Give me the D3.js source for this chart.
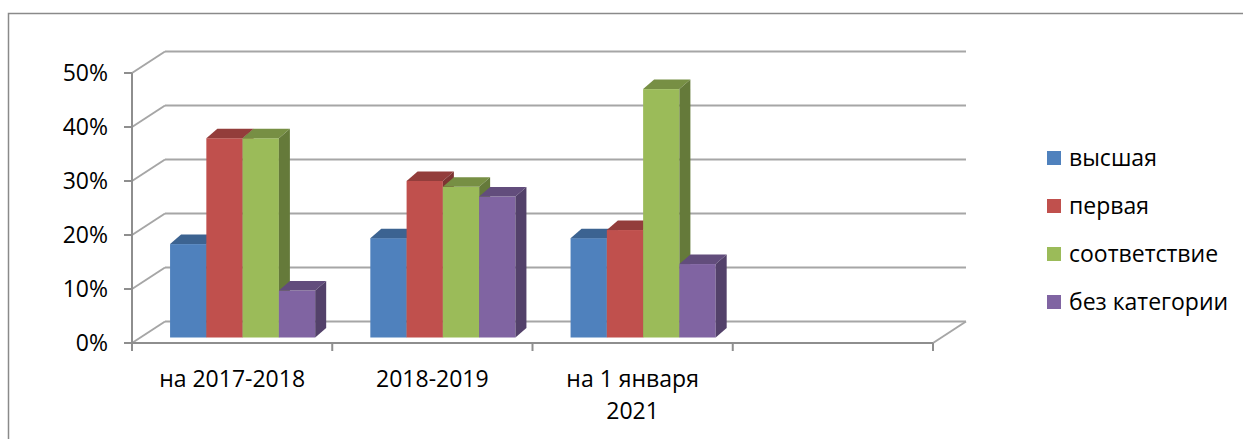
<!DOCTYPE html>
<html>
<head>
<meta charset="utf-8">
<script src="https://cdn.jsdelivr.net/npm/d3@7"></script>
<style>
  html, body { margin: 0; padding: 0; background: #fff; }
  svg { display: block; }
  text { font-family: "Open Sans", "Noto Sans", sans-serif; fill: #000; }
</style>
</head>
<body>
<svg id="chart" width="1243" height="439"></svg>
<script>
// ---- data ----
const categories = ["на 2017-2018", "2018-2019", "на 1 января 2021", ""];
const seriesNames = ["высшая", "первая", "соответствие", "без категории"];
const vysshaya = [17.3, 18.4, 18.4];
const pervaya = [36.9, 29.0, 19.9];
const sootvetstvie = [36.9, 27.9, 46.0];
const bezKategorii = [8.7, 26.1, 13.6];
const yTickValues = [0, 10, 20, 30, 40, 50];
const seriesValues = [vysshaya, pervaya, sootvetstvie, bezKategorii];
const seriesColors = ["#4F81BD", "#C0504D", "#9BBB59", "#8064A2"];

// ---- layout ----
const svg = d3.select("#chart");
const FONT = 23;
const WDX = 33, WDY = -21.5;      // wall depth offset
const BDX = 11, BDY = -9.5;       // bar depth
const BAR_SHIFT_X = 10.5, BAR_SHIFT_Y = -5.5; // bar front plane offset
const gridColor = "#a6a6a6";
const axisColor = "#8e8e8e";

// outer border
svg.append("rect").attr("x", 8.5).attr("y", 13.5).attr("width", 1400).attr("height", 600)
  .attr("fill", "none").attr("stroke", "#8a8a8a").attr("stroke-width", 1.5);

const x = d3.scaleBand().domain(categories).range([132, 933]).paddingInner(0).paddingOuter(0);
const y = d3.scaleLinear().domain([0, 50]).range([343, 73]);
const xs = d3.scaleBand().domain(seriesNames).range([0, x.bandwidth()]).paddingInner(0).paddingOuter(0.76);

const g = svg.append("g");

// back wall gridlines
g.selectAll("line.grid").data(yTickValues).join("line")
  .attr("x1", 132 + WDX).attr("x2", 933 + WDX)
  .attr("y1", d => y(d) + WDY).attr("y2", d => y(d) + WDY)
  .attr("stroke", gridColor).attr("stroke-width", 2);

// side wall diagonals
g.selectAll("line.side").data(yTickValues).join("line")
  .attr("x1", 132).attr("x2", 132 + WDX)
  .attr("y1", d => y(d)).attr("y2", d => y(d) + WDY)
  .attr("stroke", gridColor).attr("stroke-width", 2);

// floor right diagonal
g.append("line").attr("x1", 933).attr("y1", y(0)).attr("x2", 933 + WDX).attr("y2", y(0) + WDY)
  .attr("stroke", gridColor).attr("stroke-width", 2);

// axes
g.append("line").attr("x1", 132).attr("x2", 132).attr("y1", y(50)).attr("y2", y(0) + 8)
  .attr("stroke", axisColor).attr("stroke-width", 2);
g.append("line").attr("x1", 124).attr("x2", 933).attr("y1", y(0)).attr("y2", y(0))
  .attr("stroke", axisColor).attr("stroke-width", 2);
g.selectAll("line.ytick").data(yTickValues).join("line")
  .attr("x1", 124).attr("x2", 132).attr("y1", d => y(d)).attr("y2", d => y(d))
  .attr("stroke", axisColor).attr("stroke-width", 2);
const xBounds = categories.map(c => x(c)).concat([x(categories[categories.length - 1]) + x.bandwidth()]);
g.selectAll("line.xtick").data(xBounds).join("line")
  .attr("x1", d => d).attr("x2", d => d).attr("y1", y(0)).attr("y2", y(0) + 8)
  .attr("stroke", axisColor).attr("stroke-width", 2);

// y labels
g.selectAll("text.ylab").data(yTickValues).join("text")
  .attr("x", 108).attr("y", d => y(d)).attr("dy", "0.36em")
  .attr("text-anchor", "end").style("font-size", FONT + "px")
  .text(d => d + "%");

// x labels with wrap
function wrapLabel(sel, width) {
  sel.each(function(d) {
    const t = d3.select(this);
    const words = d.split(/\s+/).filter(w => w.length);
    const xPos = t.attr("x");
    t.text(null);
    let line = [];
    let tspan = t.append("tspan").attr("x", xPos).attr("dy", 0);
    let lineNo = 0;
    for (const w of words) {
      line.push(w);
      tspan.text(line.join(" "));
      if (tspan.node().getComputedTextLength() > width && line.length > 1) {
        line.pop();
        tspan.text(line.join(" "));
        line = [w];
        lineNo++;
        tspan = t.append("tspan").attr("x", xPos).attr("dy", "32px").text(w);
      }
    }
  });
}
g.selectAll("text.xlab").data(categories).join("text")
  .attr("x", d => x(d) + x.bandwidth() / 2).attr("y", 387)
  .attr("text-anchor", "middle").style("font-size", FONT + "px")
  .text(d => d)
  .call(wrapLabel, 172);

// bars
const bars = [];
categories.forEach((c, i) => {
  seriesNames.forEach((s, j) => {
    const v = seriesValues[j][i];
    if (v == null) return;
    bars.push({ c, s, v, color: seriesColors[j] });
  });
});
const barG = g.append("g");
bars.forEach(b => {
  const x0 = x(b.c) + xs(b.s) + BAR_SHIFT_X;
  const w = xs.bandwidth();
  const bottom = y(0) + BAR_SHIFT_Y;
  const top = y(b.v) + BAR_SHIFT_Y;
  const bg = barG.append("g");
  const base = d3.color(b.color);
  bg.append("rect").attr("x", x0).attr("y", top).attr("width", w).attr("height", bottom - top)
    .attr("fill", b.color);
  bg.append("polygon")
    .attr("points", [[x0, top], [x0 + w, top], [x0 + w + BDX, top + BDY], [x0 + BDX, top + BDY]].map(p => p.join(",")).join(" "))
    .attr("fill", base.darker(0.75).formatHex());
  bg.append("polygon")
    .attr("points", [[x0 + w, top], [x0 + w + BDX, top + BDY], [x0 + w + BDX, bottom + BDY], [x0 + w, bottom]].map(p => p.join(",")).join(" "))
    .attr("fill", base.darker(1.2).formatHex());
});

// legend
const leg = svg.append("g");
seriesNames.forEach((s, j) => {
  const cy = 158 + j * 48;
  leg.append("rect").attr("x", 1047).attr("y", cy - 7).attr("width", 14).attr("height", 14)
    .attr("fill", seriesColors[j]);
  leg.append("text").attr("x", 1069).attr("y", cy).attr("dy", "0.36em")
    .style("font-size", FONT + "px").text(s);
});
</script>
</body>
</html>
